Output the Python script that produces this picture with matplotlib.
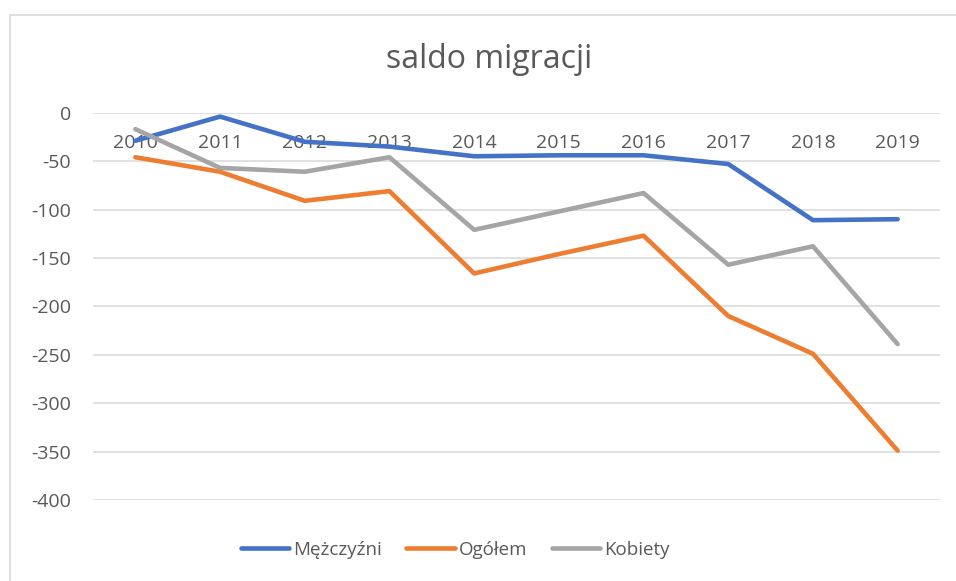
import matplotlib.pyplot as plt
from matplotlib.patches import Rectangle

lata = ["2010", "2011", "2012", "2013", "2014", "2015", "2016", "2017", "2018", "2019"]
mezczyzni = [-29, -4, -30, -35, -45, -44, -44, -53, -111, -110]
ogolem = [-46, -61, -91, -81, -166, -146, -127, -210, -249, -349]
kobiety = [-17, -57, -61, -46, -121, -102, -83, -157, -138, -239]
y_ticks = [0, -50, -100, -150, -200, -250, -300, -350, -400]

plt.rcParams['font.family'] = ['Open Sans', 'DejaVu Sans']
tekst = '#595959'

W, H = 956, 581
fig = plt.figure(figsize=(W / 100, H / 100), dpi=100)
ax = fig.add_axes([93 / W, 1 - 500 / H, (940 - 93) / W, (500 - 112.7) / H])

x = [i + 0.5 for i in range(len(lata))]
ax.plot(x, mezczyzni, color='#4472C4', lw=3.3, solid_capstyle='round', solid_joinstyle='round', label='Mężczyźni', zorder=3)
ax.plot(x, ogolem, color='#ED7D31', lw=3.3, solid_capstyle='round', solid_joinstyle='round', label='Ogółem', zorder=4)
ax.plot(x, kobiety, color='#A5A5A5', lw=3.3, solid_capstyle='round', solid_joinstyle='round', label='Kobiety', zorder=5)

ax.set_xlim(0, len(lata))
ax.set_ylim(-400, 0)
ax.set_yticks(y_ticks)
ax.set_yticklabels([str(v) for v in y_ticks])
ax.yaxis.grid(True, color='#D9D9D9', lw=1.1)
ax.set_axisbelow(True)
ax.set_xticks([])
ax.tick_params(axis='y', length=0, pad=16, labelsize=14, labelcolor=tekst)
for s in ax.spines.values():
    s.set_visible(False)

# etykiety lat tuż pod linią zera
for xi, rok in zip(x, lata):
    ax.annotate(rok, xy=(xi, 0), xytext=(0, -21.5), textcoords='offset points',
                ha='center', va='center', fontsize=14, color=tekst, zorder=2)

fig.text(489 / W, 1 - 60 / H, 'saldo migracji', ha='center', va='center', fontsize=23, color=tekst)

fig.legend(loc='center', bbox_to_anchor=(455 / W, 1 - 550 / H), ncol=3, frameon=False,
           fontsize=13.5, labelcolor=tekst, handlelength=2.6, handletextpad=0.2, columnspacing=1.3)

fig.patches.append(Rectangle((9.5 / W, -0.1), 1.2, 1.1 - 15 / H, transform=fig.transFigure,
                             fill=False, edgecolor='#D9D9D9', lw=1.2))

fig.savefig('out.png', dpi=100)
